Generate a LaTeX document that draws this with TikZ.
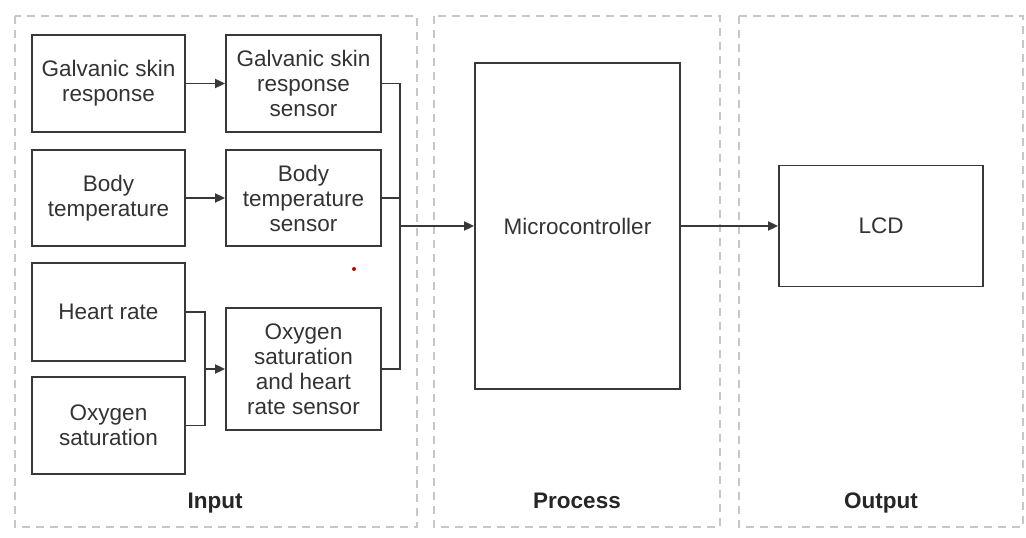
\documentclass[tikz,border=0pt]{standalone}
\usepackage{fontspec}
\setmainfont{Liberation Sans}
\usetikzlibrary{arrows.meta}

\begin{document}
\begin{tikzpicture}[x=1pt, y=-1pt,
  blk/.style={draw=black!78, line width=1.8pt, align=center, inner sep=0pt, font=\fontsize{22.5}{25}\selectfont, text=black!80},
  panel/.style={draw=black!22, dash pattern=on 8pt off 6pt, line width=1.6pt},
  lbl/.style={anchor=base, font=\fontsize{22.5}{26}\selectfont\bfseries, text=black!85},
  wire/.style={draw=black!78, line width=1.8pt},
  tip/.style={-{Triangle[length=10pt, width=9pt]}}]
\useasboundingbox (0,0) rectangle (1026,538);
%Panels
\draw [panel] (15,16) rectangle (417,527);
\draw [panel] (434,16) rectangle (720,527);
\draw [panel] (739,16) rectangle (1023,527);
%Blocks
\node [blk, minimum width=153, minimum height=97] (gsr) at (108.5,83.5) {Galvanic skin\\response};
\node [blk, minimum width=153, minimum height=96] (bt) at (108.5,198) {Body\\temperature};
\node [blk, minimum width=153, minimum height=98] (hr) at (108.5,312) {Heart rate};
\node [blk, minimum width=153, minimum height=97] (os) at (108.5,425.5) {Oxygen\\saturation};
\node [blk, minimum width=155, minimum height=97] (gsrs) at (303.5,83.5) {Galvanic skin\\response\\sensor};
\node [blk, minimum width=155, minimum height=96] (bts) at (303.5,198) {Body\\temperature\\sensor};
\node [blk, minimum width=155, minimum height=122] (oss) at (303.5,369) {Oxygen\\saturation\\and heart\\rate sensor};
\node [blk, minimum width=205, minimum height=326] (mcu) at (577.5,226) {Microcontroller};
\node [blk, minimum width=204, minimum height=121] (lcd) at (881,226) {LCD};
%Wires
\coordinate (hub) at (205,369);
\coordinate (bus) at (400,226);
\draw [wire, tip] (gsr.east) -- (gsrs.west);
\draw [wire, tip] (bt.east) -- (bts.west);
\draw [wire] (hr.east) -| (hub);
\draw [wire] (os.east) -| (hub);
\draw [wire, tip] (hub) -- (oss.west);
\draw [wire] (gsrs.east) -| (bus);
\draw [wire] (bts.east) -| (bus);
\draw [wire] (oss.east) -| (bus);
\draw [wire, tip] (bus) -- (mcu.west);
\draw [wire, tip] (mcu.east) -- (lcd.west);
\fill [red!75!black] (354,269) circle (2);
%Text
\node [lbl] (inlbl) at (215,508) {Input};
\node [lbl] (prlbl) at (577,508) {Process};
\node [lbl] (outlbl) at (881,508) {Output};
\end{tikzpicture}
\end{document}
